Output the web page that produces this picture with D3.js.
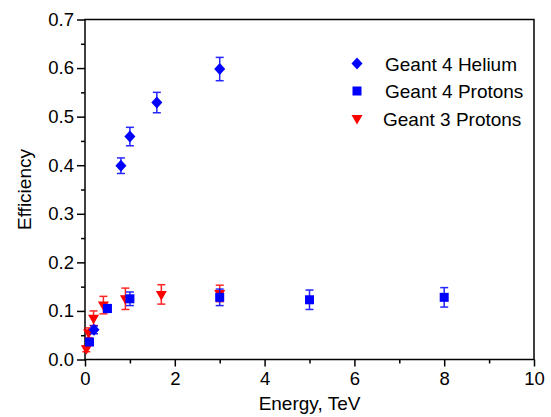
<!DOCTYPE html>
<html>
<head>
<meta charset="utf-8">
<script src="https://cdn.jsdelivr.net/npm/d3@7"></script>
<style>
  body { margin: 0; background: #fff; }
  text { font-family: Arial, "Liberation Sans", sans-serif; }
</style>
</head>
<body>
<div id="chart"></div>
<script>
// Geant 4 Helium
const heE   = [0.2, 0.8, 1.0, 1.6, 3.0];
const heEff = [0.061, 0.399, 0.459, 0.529, 0.598];
const heErr = [0.008, 0.016, 0.019, 0.021, 0.024];

// Geant 4 Protons
const g4E   = [0.1, 0.5, 1.0, 3.0, 5.0, 8.0];
const g4Eff = [0.036, 0.105, 0.125, 0.128, 0.123, 0.128];
const g4Err = [0.006, 0.008, 0.014, 0.017, 0.02, 0.02];

// Geant 3 Protons
const g3E   = [0.03, 0.08, 0.19, 0.41, 0.9, 1.7, 3.0];
const g3Eff = [0.022, 0.055, 0.085, 0.112, 0.125, 0.134, 0.136];
const g3Err = [0.006, 0.01, 0.015, 0.018, 0.022, 0.02, 0.017];

const xTicks = [0, 2, 4, 6, 8, 10];
const yTicks = [0, 0.1, 0.2, 0.3, 0.4, 0.5, 0.6, 0.7];
const legendNames = ["Geant 4 Helium", "Geant 4 Protons", "Geant 3 Protons"];

const W = 551, H = 417;
const margin = {top: 19.5, right: 17, bottom: 57.5, left: 85};
const width = W - margin.left - margin.right;
const height = H - margin.top - margin.bottom;

const svg = d3.select("#chart").append("svg")
    .attr("width", W).attr("height", H)
  .append("g")
    .attr("transform", "translate(" + margin.left + "," + margin.top + ")");

const x = d3.scaleLinear().domain([0, 10]).range([0, width]);
const y = d3.scaleLinear().domain([0, 0.7]).range([height, 0]);

// frame
svg.append("rect")
    .attr("width", width).attr("height", height)
    .attr("fill", "none").attr("stroke", "#000").attr("stroke-width", 1.5);

// X axis
const xAxis = svg.append("g").attr("transform", "translate(0," + height + ")");
xAxis.call(d3.axisBottom(x).tickValues(d3.range(1, 10, 2)).tickSize(4).tickFormat(""));
xAxis.call(g => g.select(".domain").remove());
const xMaj = svg.append("g").attr("transform", "translate(0," + height + ")")
    .call(d3.axisBottom(x).tickValues(xTicks).tickSize(7).tickPadding(5).tickFormat(d3.format("d")));
xMaj.select(".domain").remove();
xMaj.selectAll("text").attr("font-size", 18.5).attr("font-family", "Arial, 'Liberation Sans', sans-serif").attr("fill", "#000");

// Y axis
const yMin = svg.append("g")
    .call(d3.axisLeft(y).tickValues(d3.range(0.05, 0.7, 0.1)).tickSize(4).tickFormat(""));
yMin.select(".domain").remove();
const yMaj = svg.append("g")
    .call(d3.axisLeft(y).tickValues(yTicks).tickSize(8).tickPadding(3).tickFormat(d3.format(".1f")));
yMaj.select(".domain").remove();
yMaj.selectAll("text").attr("font-size", 18.5).attr("font-family", "Arial, 'Liberation Sans', sans-serif").attr("fill", "#000");
svg.selectAll(".tick line").attr("stroke-width", 1.5);

// axis titles
svg.append("text")
    .attr("text-anchor", "middle")
    .attr("font-size", 19)
    .attr("x", width / 2)
    .attr("y", height + 50)
    .text("Energy, TeV");

svg.append("text")
    .attr("text-anchor", "middle")
    .attr("font-size", 19)
    .attr("transform", "rotate(-90)")
    .attr("x", -height / 2)
    .attr("y", -54)
    .text("Efficiency");

// series
const series = [
  {name: legendNames[2], E: g3E, eff: g3Eff, err: g3Err, color: "#ff0000", shape: "tri"},
  {name: legendNames[1], E: g4E, eff: g4Eff, err: g4Err, color: "#0000ff", shape: "sq"},
  {name: legendNames[0], E: heE, eff: heEff, err: heErr, color: "#0000ff", shape: "dia"}
];

function marker(sel, shape, color) {
  if (shape === "dia") {
    sel.append("path").attr("d", "M0,-6L5.5,0L0,6L-5.5,0Z").attr("fill", color);
  } else if (shape === "sq") {
    sel.append("rect").attr("x", -4.5).attr("y", -4.5).attr("width", 9).attr("height", 9).attr("fill", color);
  } else {
    sel.append("path").attr("d", "M-5.5,-3.5L5.5,-3.5L0,6Z").attr("fill", color);
  }
}

series.forEach(s => {
  const pts = s.E.map((e, i) => ({e: e, v: s.eff[i], err: s.err[i]}));
  const g = svg.append("g");
  const eb = g.selectAll(".eb").data(pts).enter().append("g")
      .attr("stroke", s.color).attr("stroke-width", 1.5).attr("opacity", 0.85);
  eb.append("line")
      .attr("x1", d => x(d.e)).attr("x2", d => x(d.e))
      .attr("y1", d => y(d.v - d.err)).attr("y2", d => y(d.v + d.err));
  eb.append("line")
      .attr("x1", d => x(d.e) - 4).attr("x2", d => x(d.e) + 4)
      .attr("y1", d => y(d.v + d.err)).attr("y2", d => y(d.v + d.err));
  eb.append("line")
      .attr("x1", d => x(d.e) - 4).attr("x2", d => x(d.e) + 4)
      .attr("y1", d => y(d.v - d.err)).attr("y2", d => y(d.v - d.err));
  g.selectAll(".m").data(pts).enter().append("g")
      .attr("transform", d => "translate(" + x(d.e) + "," + y(d.v) + ")")
      .each(function() { marker(d3.select(this), s.shape, s.color); });
});

// legend
const legend = [
  {name: legendNames[0], color: "#0000ff", shape: "dia", tx: 300},
  {name: legendNames[1], color: "#0000ff", shape: "sq", tx: 300},
  {name: legendNames[2], color: "#ff0000", shape: "tri", tx: 298}
];
const lg = svg.selectAll(".lg").data(legend).enter().append("g")
    .attr("transform", (d, i) => "translate(0," + (44 + i * 27.5) + ")");
lg.each(function(d) {
  const gg = d3.select(this).append("g").attr("transform", "translate(272,0)");
  marker(gg, d.shape, d.color);
});
lg.append("text")
    .attr("x", d => d.tx)
    .attr("y", 7)
    .attr("font-size", 19)
    .text(d => d.name);
</script>
</body>
</html>
